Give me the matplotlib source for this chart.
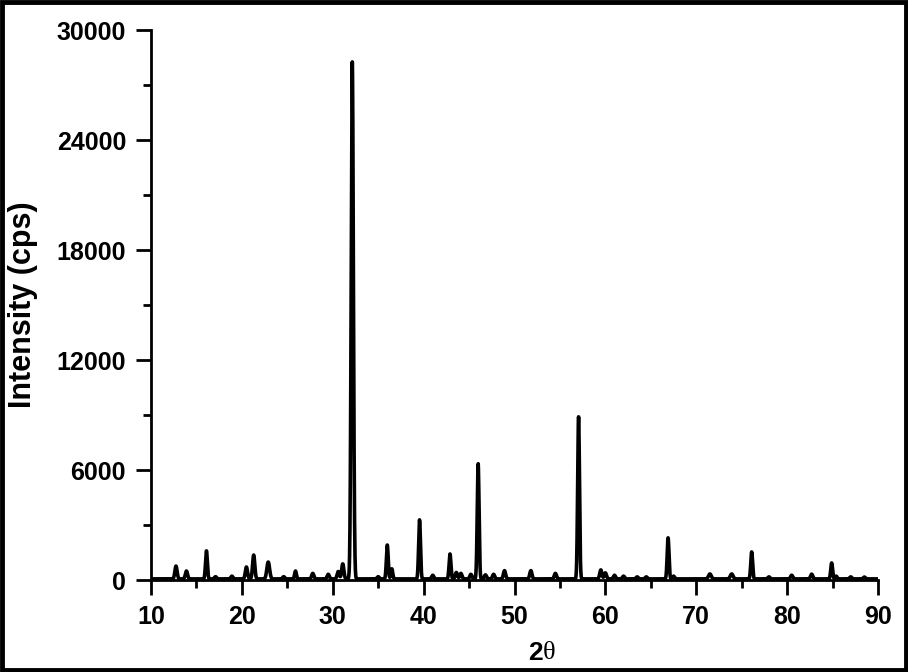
import numpy as np
import matplotlib.pyplot as plt
from matplotlib.patches import Rectangle

plt.rcParams['font.family'] = ['Liberation Sans', 'DejaVu Sans']
plt.rcParams['font.weight'] = 'bold'

""" peak list read off the pattern """
peak_pos = [12.75, 13.9, 16.1, 17.1, 18.9, 20.5, 21.3, 22.9, 24.6, 25.9,
            27.8, 29.5, 30.6, 31.1, 32.15, 35.0, 36.0, 36.5, 39.55, 41.0,
            42.9, 43.6, 44.1, 45.2, 46.0, 46.8, 47.7, 48.9, 51.8, 54.5,
            57.05, 59.5, 60.0, 61.0, 62.0, 63.5, 64.5, 66.9, 67.5, 71.5,
            73.9, 76.1, 78.0, 80.5, 82.7, 84.9, 85.4, 87.0, 88.5]
peak_int = [700, 430, 1530, 120, 150, 650, 1300, 920, 120, 430,
            300, 250, 400, 820, 28200, 120, 1850, 550, 3220, 200,
            1360, 350, 300, 250, 6280, 220, 250, 450, 450, 300,
            8840, 490, 330, 200, 150, 110, 110, 2240, 150, 270,
            270, 1470, 110, 200, 260, 870, 150, 110, 100]
peak_w = [0.12, 0.12, 0.1, 0.12, 0.12, 0.12, 0.12, 0.15, 0.12, 0.1,
          0.12, 0.12, 0.12, 0.12, 0.12, 0.12, 0.1, 0.1, 0.1, 0.12,
          0.1, 0.12, 0.12, 0.12, 0.1, 0.12, 0.12, 0.12, 0.12, 0.12,
          0.1, 0.12, 0.12, 0.12, 0.12, 0.12, 0.12, 0.1, 0.12, 0.15,
          0.15, 0.1, 0.12, 0.12, 0.12, 0.1, 0.1, 0.12, 0.12]
background = 60

two_theta = np.linspace(10, 90, 8001)
intensity = np.full_like(two_theta, background, dtype=float)
for p, h, w in zip(peak_pos, peak_int, peak_w):
    intensity += h * np.exp(-0.5 * ((two_theta - p) / w) ** 2)

fig = plt.figure(figsize=(9.08, 6.72), dpi=100)
ax = fig.add_axes([151/908, 1-580/672, (878-151)/908, 550/672])
ax.plot(two_theta, intensity, color='black', lw=2.6)

ax.set_xlim(10, 90)
ax.set_ylim(0, 30000)
ax.set_xticks(np.arange(10, 91, 10))
ax.set_xticks(np.arange(15, 90, 10), minor=True)
ax.set_yticks(np.arange(0, 30001, 6000))
ax.set_yticks(np.arange(3000, 30000, 6000), minor=True)
for s in ['top', 'right']:
    ax.spines[s].set_visible(False)
for s in ['left', 'bottom']:
    ax.spines[s].set_linewidth(2)
ax.tick_params(which='major', direction='out', length=11, width=2,
               labelsize=18, pad=7)
ax.tick_params(which='minor', direction='out', length=6, width=2)
for lab in ax.get_xticklabels() + ax.get_yticklabels():
    lab.set_fontweight('bold')

ax.set_ylabel('Intensity (cps)', fontsize=22, fontweight='bold')
ax.yaxis.set_label_coords(-(151-38)/727, 0.5)

# x label: bold "2" and a plain serif theta
fig.text(543/908, 1-653/672, '2', fontsize=19, fontweight='bold',
         ha='right', va='center')
fig.text(543/908, 1-653/672, 'θ', fontsize=19, fontweight='normal',
         family='Liberation Serif', ha='left', va='center')

# frame around the whole picture
fig.patches.append(Rectangle((0.002, 0.003), 0.996, 0.994, transform=fig.transFigure,
                             fill=False, edgecolor='black', lw=3.5))

fig.savefig('out.png', dpi=100)
